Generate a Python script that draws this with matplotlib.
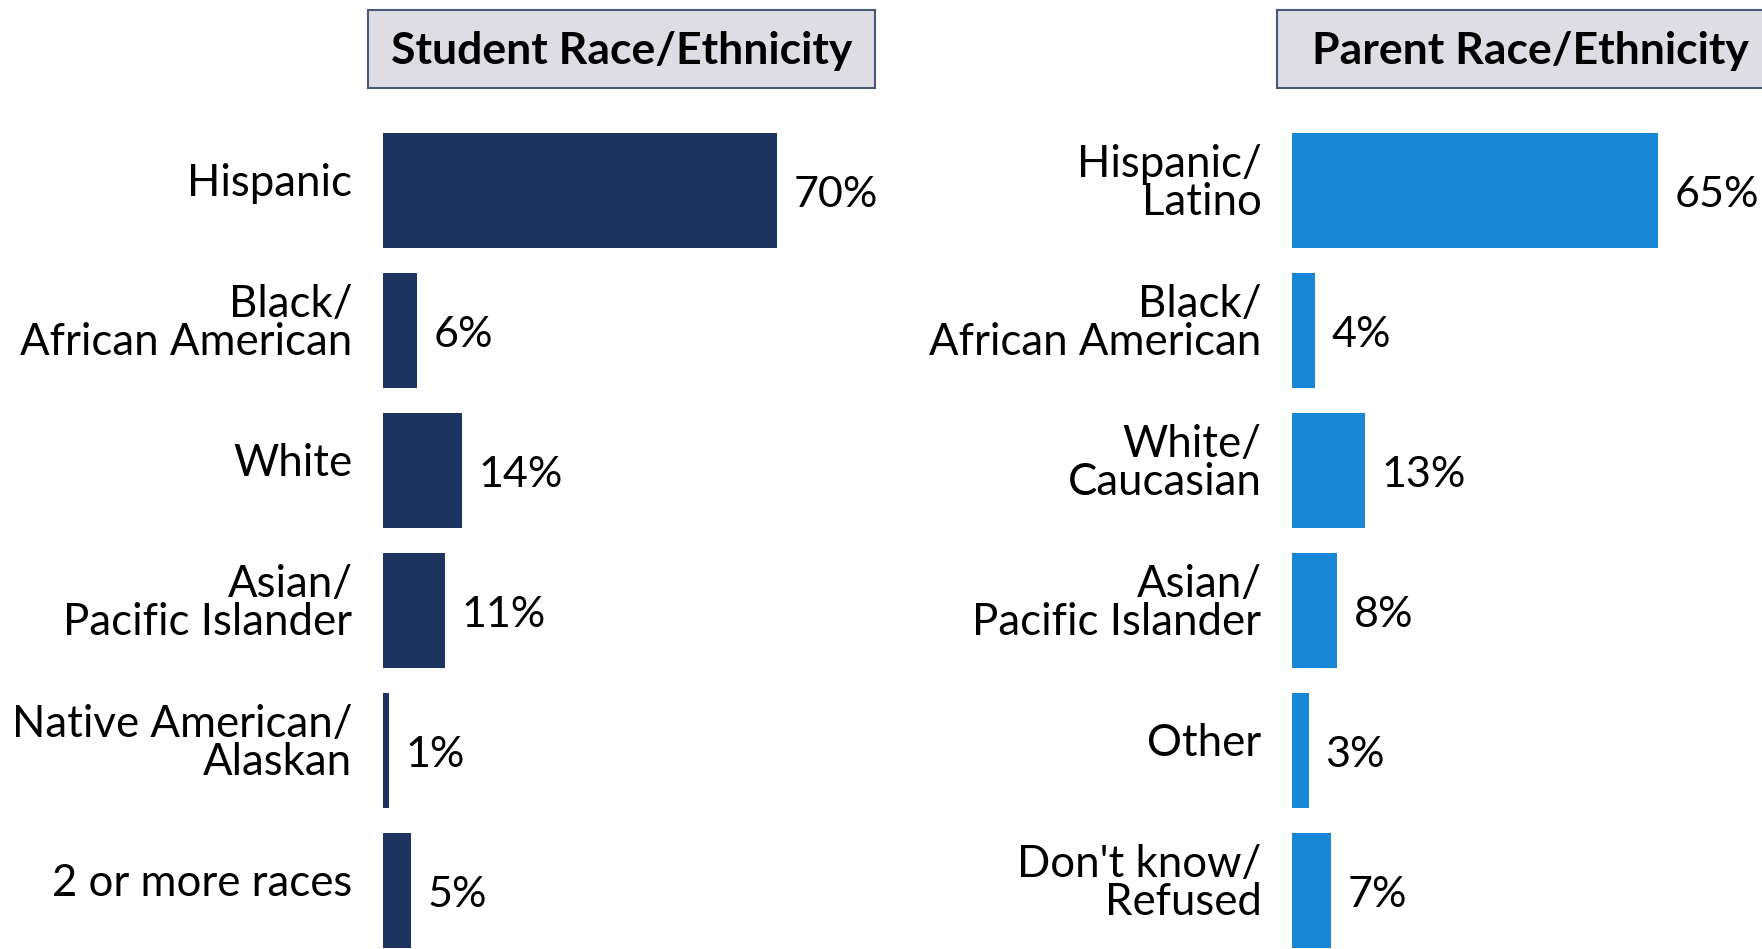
import matplotlib.pyplot as plt
from matplotlib.patches import Rectangle

# data
student_cats = ['Hispanic', 'Black/\nAfrican American', 'White', 'Asian/\nPacific Islander',
                'Native American/\nAlaskan', '2 or more races']
student_vals = [70, 6, 14, 11, 1, 5]
parent_cats = ['Hispanic/\nLatino', 'Black/\nAfrican American', 'White/\nCaucasian',
               'Asian/\nPacific Islander', 'Other', "Don't know/\nRefused"]
parent_vals = [65, 4, 13, 8, 3, 7]

plt.rcParams['font.family'] = ['Lato', 'DejaVu Sans']

W, H = 1762, 949
fig = plt.figure(figsize=(W / 100, H / 100), dpi=100)

px_per_pct = 5.63
ylims = (5.418, -1.361)


def panel(x0, cats, vals, color, title, title_cx, box_x0, box_x1):
    wfrac = (W - x0) / W if x0 > W / 2 else 0.3195
    ax = fig.add_axes([x0 / W, 0, wfrac, 1])
    ax.set_xlim(0, wfrac * W / px_per_pct)
    ax.set_ylim(*ylims)
    ypos = list(range(len(vals)))
    ax.barh(ypos, vals, height=0.826, color=color)
    for y, v in zip(ypos, vals):
        ax.annotate(f'{v}%', (v, y), xytext=(12, -3), textcoords='offset points',
                    ha='left', va='center', fontsize=31)
    for y, c in zip(ypos, cats):
        ax.annotate(c, (0, y), xytext=(-22, 5), textcoords='offset points',
                    ha='right', va='center', multialignment='right',
                    fontsize=31.5, linespacing=0.92)
    ax.axis('off')

    # title box
    fig.patches.append(Rectangle((box_x0 / W, 1 - 87.6 / H), (box_x1 - box_x0) / W, 77.6 / H,
                                 transform=fig.transFigure, facecolor='#dedde3',
                                 edgecolor='#4a5a75', linewidth=1.5, clip_on=False))
    fig.text(title_cx / W, 1 - 51 / H, title, ha='center', va='center',
             fontsize=32, fontweight='bold')


panel(383, student_cats, student_vals, '#1d355e', 'Student Race/Ethnicity', 621.5, 367.5, 875.4)
panel(1292, parent_cats, parent_vals, '#1887d6', 'Parent Race/Ethnicity', 1530.5, 1276.5, 1790)

fig.savefig('out.png', dpi=100)
